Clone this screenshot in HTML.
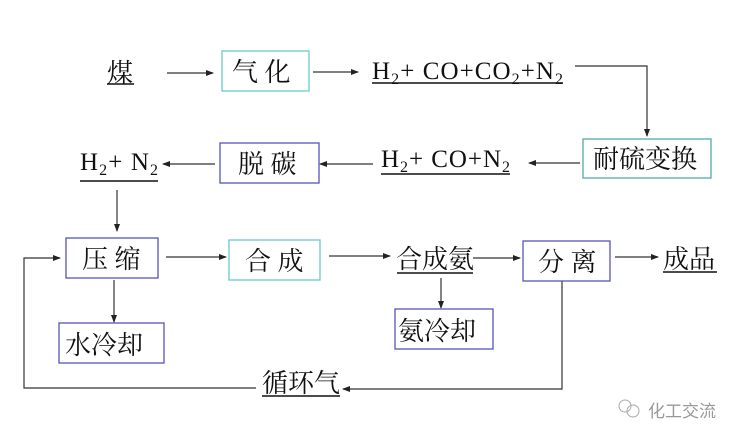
<!DOCTYPE html>
<html><head><meta charset="utf-8"><style>
html,body{margin:0;padding:0;background:#fff;width:744px;height:441px;overflow:hidden}
text{font-family:"Liberation Serif","Noto Serif CJK SC",serif;fill:#111}
</style></head><body>
<svg width="744" height="441" viewBox="0 0 744 441" xmlns="http://www.w3.org/2000/svg">
<defs><marker id="a" markerWidth="8" markerHeight="6" refX="7" refY="3" orient="auto" markerUnits="userSpaceOnUse"><path d="M0,0 L8,3 L0,6 z" fill="#222"/></marker></defs>
<g stroke="#333" stroke-width="1.2" fill="none">
<line x1="167" y1="73" x2="213" y2="73" marker-end="url(#a)"/>
<line x1="313" y1="72" x2="358" y2="72" marker-end="url(#a)"/>
<polyline points="575,66 647,66 647,136" marker-end="url(#a)"/>
<line x1="580" y1="163" x2="529" y2="163" marker-end="url(#a)"/>
<line x1="373" y1="164" x2="320" y2="164" marker-end="url(#a)"/>
<line x1="215" y1="164" x2="163" y2="164" marker-end="url(#a)"/>
<line x1="117" y1="190" x2="117" y2="231" marker-end="url(#a)"/>
<line x1="166" y1="257" x2="226" y2="257" marker-end="url(#a)"/>
<line x1="329" y1="256" x2="390" y2="256" marker-end="url(#a)"/>
<line x1="473" y1="258" x2="520" y2="258" marker-end="url(#a)"/>
<line x1="615" y1="257" x2="658" y2="257" marker-end="url(#a)"/>
<line x1="114" y1="280" x2="114" y2="322" marker-end="url(#a)"/>
<line x1="441" y1="278" x2="441" y2="308" marker-end="url(#a)"/>
<polyline points="562,281 562,389 343,389" marker-end="url(#a)"/>
<polyline points="256,388 24,388 24,258 60,258" marker-end="url(#a)"/>
</g>
<g fill="#fff" stroke-width="1.3">
<rect x="222" y="51" width="87" height="40" stroke="#6cc"/>
<rect x="583" y="139" width="128" height="39" stroke="#5aa"/>
<rect x="220" y="143" width="99" height="40" stroke="#55b"/>
<rect x="66" y="238" width="92" height="40" stroke="#55b"/>
<rect x="229" y="240" width="91" height="40" stroke="#6cc"/>
<rect x="523" y="241" width="87" height="40" stroke="#55b"/>
<rect x="59" y="323" width="105" height="40" stroke="#55b"/>
<rect x="395" y="309" width="98" height="40" stroke="#55b"/>
</g>
<g font-size="26">
<text x="107" y="82">煤</text>
<line x1="107" y1="84" x2="134" y2="84" stroke="#111" stroke-width="1.5"/>
<text x="232" y="81">气 化</text>
<text x="593" y="168">耐硫变换</text>
<text x="238" y="173">脱 碳</text>
<text x="82" y="268">压 缩</text>
<text x="245" y="270">合 成</text>
<text x="538" y="271">分 离</text>
<text x="65" y="354">水冷却</text>
<text x="398" y="340">氨冷却</text>
<text x="396" y="268">合成氨</text>
<line x1="397" y1="273" x2="473" y2="273" stroke="#111" stroke-width="1.5"/>
<text x="663" y="268">成品</text>
<line x1="663" y1="272" x2="717" y2="272" stroke="#111" stroke-width="1.5"/>
<text x="262" y="392">循环气</text>
<line x1="262" y1="396" x2="340" y2="396" stroke="#111" stroke-width="1.5"/>
</g>
<g font-size="25">
<text x="372" y="79" textLength="191" lengthAdjust="spacing">H<tspan font-size="16" dy="5">2</tspan><tspan dy="-5">+ CO+CO</tspan><tspan font-size="16" dy="5">2</tspan><tspan dy="-5">+N</tspan><tspan font-size="16" dy="5">2</tspan></text>
<line x1="372" y1="83" x2="563" y2="83" stroke="#111" stroke-width="1.5"/>
<text x="381" y="167" textLength="129" lengthAdjust="spacing">H<tspan font-size="16" dy="5">2</tspan><tspan dy="-5">+ CO+N</tspan><tspan font-size="16" dy="5">2</tspan></text>
<line x1="381" y1="174" x2="510" y2="174" stroke="#111" stroke-width="1.5"/>
<text x="80" y="170" textLength="78" lengthAdjust="spacing">H<tspan font-size="16" dy="5">2</tspan><tspan dy="-5">+ N</tspan><tspan font-size="16" dy="5">2</tspan></text>
<line x1="80" y1="181" x2="158" y2="181" stroke="#111" stroke-width="1.5"/>
</g>
<g stroke="#aaa" fill="none" stroke-width="1"><circle cx="625" cy="406" r="6"/><circle cx="633" cy="411" r="6"/></g>
<text x="648" y="417" font-size="17" style="fill:#999;font-family:'Liberation Sans','Noto Sans CJK SC',sans-serif">化工交流</text>
</svg>
</body></html>
